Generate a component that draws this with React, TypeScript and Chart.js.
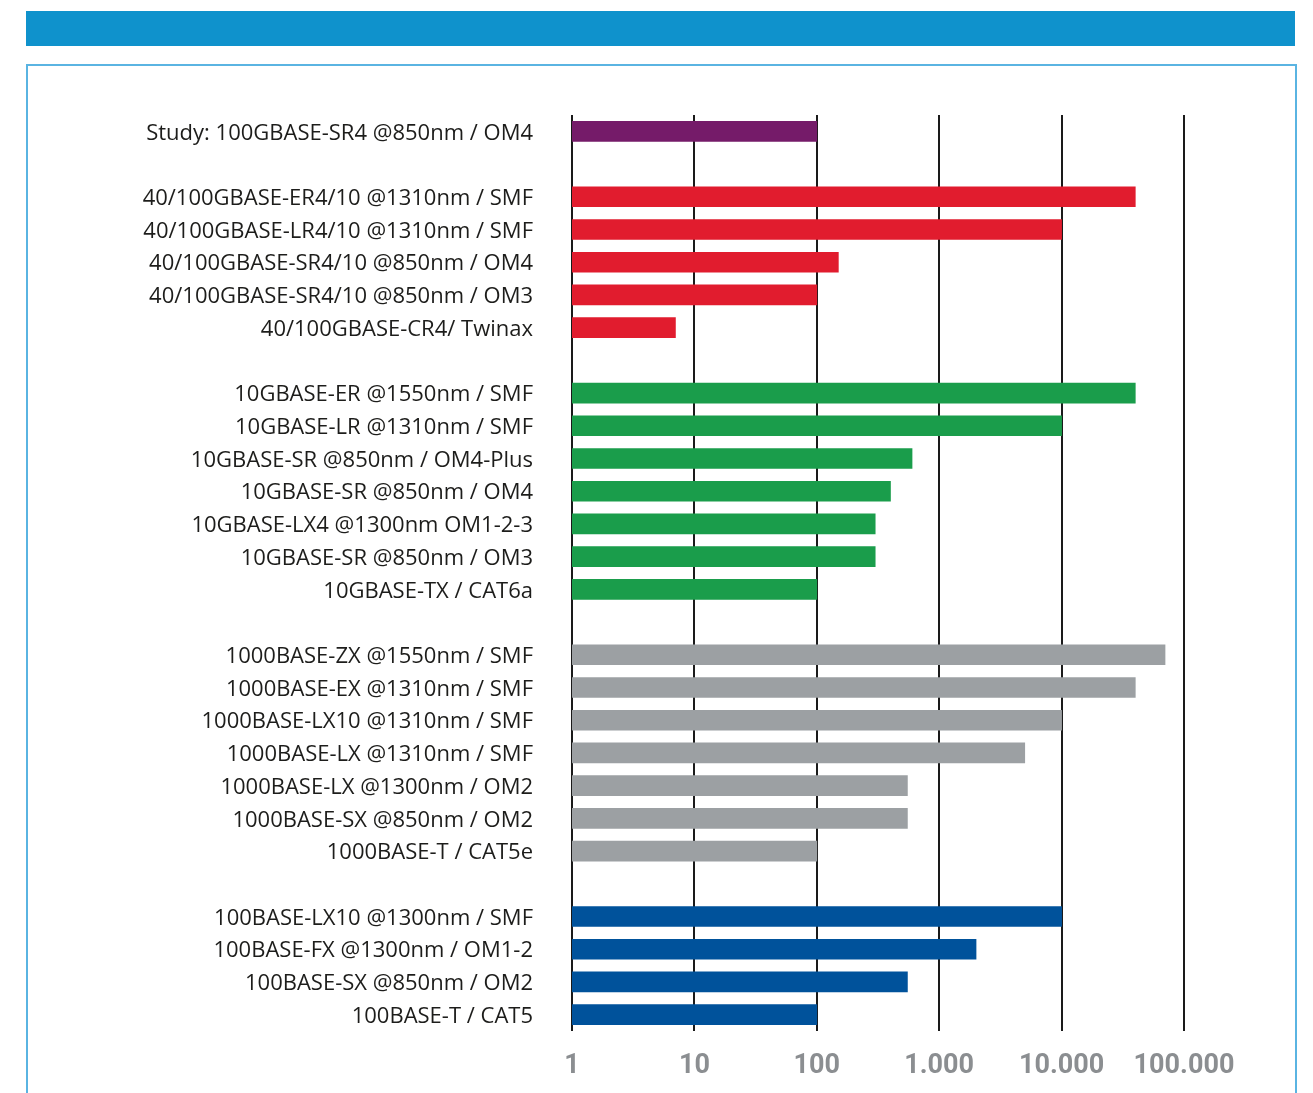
import React, { useEffect, useRef } from 'react';
import { Chart, registerables } from 'chart.js';

Chart.register(...registerables);

const categories: string[] = [
  'Study: 100GBASE-SR4 @850nm / OM4',
  '',
  '40/100GBASE-ER4/10 @1310nm / SMF',
  '40/100GBASE-LR4/10 @1310nm / SMF',
  '40/100GBASE-SR4/10 @850nm / OM4',
  '40/100GBASE-SR4/10 @850nm / OM3',
  '40/100GBASE-CR4/ Twinax',
  '',
  '10GBASE-ER @1550nm / SMF',
  '10GBASE-LR @1310nm / SMF',
  '10GBASE-SR @850nm / OM4-Plus',
  '10GBASE-SR @850nm / OM4',
  '10GBASE-LX4 @1300nm OM1-2-3',
  '10GBASE-SR @850nm / OM3',
  '10GBASE-TX / CAT6a',
  '',
  '1000BASE-ZX @1550nm / SMF',
  '1000BASE-EX @1310nm / SMF',
  '1000BASE-LX10 @1310nm / SMF',
  '1000BASE-LX @1310nm / SMF',
  '1000BASE-LX @1300nm / OM2',
  '1000BASE-SX @850nm / OM2',
  '1000BASE-T / CAT5e',
  '',
  '100BASE-LX10 @1300nm / SMF',
  '100BASE-FX @1300nm / OM1-2',
  '100BASE-SX @850nm / OM2',
  '100BASE-T / CAT5',
];

// reach in metres (null = spacer row)
const distances: (number | null)[] = [
  100,
  null,
  40000, 10000, 150, 100, 7,
  null,
  40000, 10000, 600, 400, 300, 300, 100,
  null,
  70000, 40000, 10000, 5000, 550, 550, 100,
  null,
  10000, 2000, 550, 100,
];

const PURPLE = '#751b69';
const RED = '#e11c2e';
const GREEN = '#1a9d4b';
const GREY = '#9ca0a3';
const BLUE = '#00529b';

const barColors: string[] = [
  PURPLE,
  'transparent',
  RED, RED, RED, RED, RED,
  'transparent',
  GREEN, GREEN, GREEN, GREEN, GREEN, GREEN, GREEN,
  'transparent',
  GREY, GREY, GREY, GREY, GREY, GREY, GREY,
  'transparent',
  BLUE, BLUE, BLUE, BLUE,
];

const tickValues: number[] = [1, 10, 100, 1000, 10000, 100000];
const tickLabels: string[] = ['1', '10', '100', '1.000', '10.000', '100.000'];

export default function App() {
  const canvasRef = useRef<HTMLCanvasElement | null>(null);

  useEffect(() => {
    const canvas = canvasRef.current;
    if (!canvas) return;
    const chart = new Chart(canvas, {
      type: 'bar',
      data: {
        labels: categories,
        datasets: [
          {
            data: distances as any,
            backgroundColor: barColors,
            borderWidth: 0,
            barThickness: 20,
          },
        ],
      },
      options: {
        indexAxis: 'y',
        animation: false,
        responsive: false,
        maintainAspectRatio: false,
        layout: { padding: { left: 0, top: 115, right: 129, bottom: 0 } },
        plugins: {
          legend: { display: false },
          tooltip: { enabled: false },
        },
        scales: {
          x: {
            type: 'logarithmic',
            min: 1,
            max: 100000,
            afterBuildTicks: (scale: any) => {
              scale.ticks = tickValues.map((v) => ({ value: v }));
            },
            afterFit: (scale: any) => {
              scale.height = 62;
            },
            grid: {
              color: '#1a1a1a',
              lineWidth: 2,
              drawTicks: false,
            },
            border: { display: false },
            ticks: {
              autoSkip: false,
              maxRotation: 0,
              padding: 19,
              color: '#8b8e91',
              font: { family: 'Roboto', size: 27, weight: 'bold' },
              callback: (_v: any, i: number) => tickLabels[i],
            },
          },
          y: {
            afterFit: (scale: any) => {
              scale.width = 572;
            },
            grid: { display: false, drawTicks: false },
            border: { display: false },
            ticks: {
              autoSkip: false,
              padding: 39,
              labelOffset: 2,
              color: '#1d1d1b',
              font: { family: 'Open Sans', size: 22 },
            },
          },
        },
      },
    });
    return () => chart.destroy();
  }, []);

  return (
    <div
      style={{
        position: 'absolute',
        left: 0,
        top: 0,
        width: 1313,
        height: 1093,
        overflow: 'hidden',
        background: '#ffffff',
      }}
    >
      <div
        style={{
          position: 'absolute',
          left: 26,
          top: 11,
          width: 1269,
          height: 35,
          background: '#0f92cc',
        }}
      />
      <div
        style={{
          position: 'absolute',
          left: 26,
          top: 64,
          width: 1267,
          height: 1100,
          border: '2px solid #5ab4e2',
          boxSizing: 'content-box',
        }}
      />
      <canvas
        ref={canvasRef}
        width={1313}
        height={1093}
        style={{ position: 'absolute', left: 0, top: 0, width: 1313, height: 1093 }}
      />
    </div>
  );
}
